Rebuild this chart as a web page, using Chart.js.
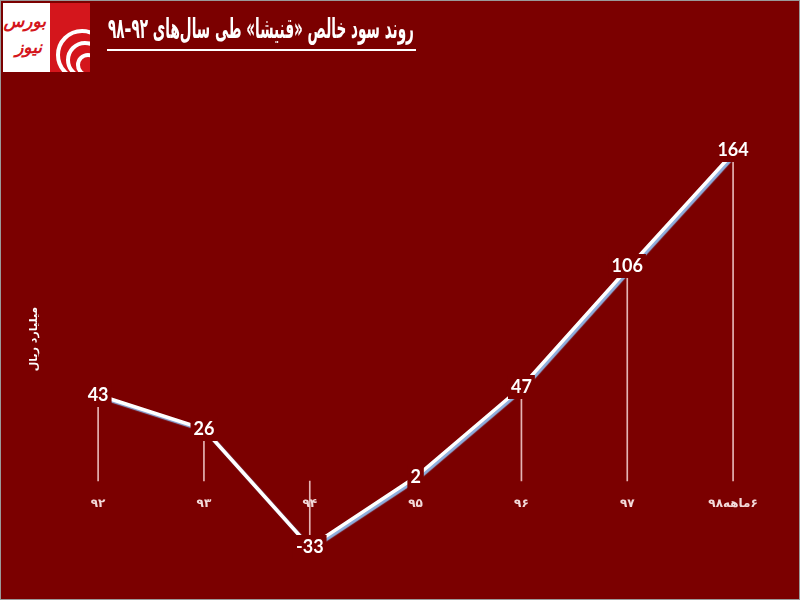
<!DOCTYPE html>
<html>
<head>
<meta charset="utf-8">
<script src="https://cdn.jsdelivr.net/npm/chart.js@4.4.0/dist/chart.umd.min.js"></script>
<style>
  html, body { margin: 0; padding: 0; background: #7b0000; }
  #page { position: relative; width: 798px; height: 598px; border: 1px solid #9a9a9a; background: #7b0000; overflow: hidden; }
  #wrap { position: absolute; left: -1px; top: -1px; width: 800px; height: 600px; }
  #logo { position: absolute; left: 2px; top: 2px; width: 87px; height: 69px; background: #fff; overflow: hidden; }
  #logo .w { position: absolute; color: #d4161c; font: italic bold 17px "DejaVu Sans", sans-serif; white-space: nowrap; direction: rtl; }
  #logo .blk { position: absolute; left: 47px; top: 0; width: 40px; height: 69px; background: #d4161c; overflow: hidden; }
  #logo .arc { position: absolute; border: 4px solid #fff; border-radius: 50%; }
  #title { position: absolute; right: 385px; top: 11px; color: #fff; direction: rtl; white-space: nowrap;
           font: bold 28px "DejaVu Sans", sans-serif; transform-origin: right center; }
  #uline { position: absolute; left: 106px; top: 48px; width: 309px; height: 0; border-top: 2px solid #fff; }
</style>
</head>
<body>
<div id="page">
  <div id="wrap"><canvas id="c"></canvas></div>
  <div id="logo">
    <div class="w" style="right:44px; top:8px;">بورس</div>
    <div class="w" style="right:48px; top:34px;">نیوز</div>
    <div class="blk">
      <div class="arc" style="left:6px; top:26px; width:44px; height:44px;"></div>
      <div class="arc" style="left:16px; top:38px; width:30px; height:30px;"></div>
      <div class="arc" style="left:26px; top:50px; width:16px; height:16px;"></div>
    </div>
  </div>
  <div id="title">روند سود خالص «قنیشا» طی سال‌های ۹۲–۹۸</div>
  <div id="uline"></div>
</div>
<script>
var years = ['۹۲', '۹۳', '۹۴', '۹۵', '۹۶', '۹۷', '\u200F۶ماهه۹۸'];
var netProfit = [43, 26, -33, 2, 47, 106, 164];
var unitLabel = 'میلیارد ریال';

var bg = '#7b0000';

// squeeze the title into the width of the underline
var titleEl = document.getElementById('title');
titleEl.style.transform = 'scaleX(' + (306 / titleEl.offsetWidth) + ')';

// white line with a light blue drop shadow, like the original
var shadowPlugin = {
  id: 'lineShadow',
  beforeDatasetDraw: function(chart, args) {
    if (args.index !== 1) return;
    var ctx = chart.ctx;
    ctx.save();
    ctx.shadowColor = '#8fb0e0';
    ctx.shadowOffsetX = 2;
    ctx.shadowOffsetY = 2;
    ctx.shadowBlur = 1;
  },
  afterDatasetDraw: function(chart, args) {
    if (args.index !== 1) return;
    chart.ctx.restore();
  }
};

// value labels sit on the points with a background box
var valueLabels = {
  id: 'valueLabels',
  afterDatasetsDraw: function(chart) {
    var ctx = chart.ctx;
    var meta = chart.getDatasetMeta(1);
    ctx.save();
    ctx.font = 'bold 18px Lato, "Open Sans", sans-serif';
    ctx.textAlign = 'center';
    ctx.textBaseline = 'middle';
    meta.data.forEach(function(pt, i) {
      var s = String(netProfit[i]);
      var w = ctx.measureText(s).width + 6;
      var dy = netProfit[i] > 100 ? -3 : 0;
      ctx.fillStyle = bg;
      ctx.fillRect(pt.x - w / 2, pt.y - 12 + dy, w, 24);
      ctx.fillStyle = '#ffffff';
      ctx.fillText(s, pt.x, pt.y + dy);
    });
    ctx.restore();
  }
};

new Chart(document.getElementById('c'), {
  data: {
    labels: years,
    datasets: [
      {
        type: 'bar',
        data: netProfit,
        backgroundColor: 'rgba(255,225,225,0.8)',
        barThickness: 1,
        order: 2
      },
      {
        type: 'line',
        data: netProfit,
        borderColor: '#ffffff',
        borderWidth: 3.5,
        pointRadius: 0,
        tension: 0,
        order: 1
      }
    ]
  },
  options: {
    responsive: true,
    maintainAspectRatio: false,
    animation: false,
    layout: { padding: { top: 121, bottom: 43, left: 24, right: 14 } },
    plugins: { legend: { display: false }, tooltip: { enabled: false } },
    scales: {
      x: {
        position: { y: 0 },
        grid: { display: false, drawTicks: false },
        border: { display: false },
        ticks: { color: '#f3dada', padding: 16, font: { family: '"DejaVu Sans", sans-serif', size: 12, weight: 'bold' } }
      },
      y: {
        min: -38,
        max: 180,
        grid: { display: false, drawTicks: false },
        border: { display: false },
        ticks: { display: false },
        title: { display: true, text: unitLabel, color: '#ffffff', padding: 4, font: { family: '"DejaVu Sans", sans-serif', size: 11, weight: 'bold' } }
      }
    }
  },
  plugins: [shadowPlugin, valueLabels]
});
</script>
</body>
</html>
